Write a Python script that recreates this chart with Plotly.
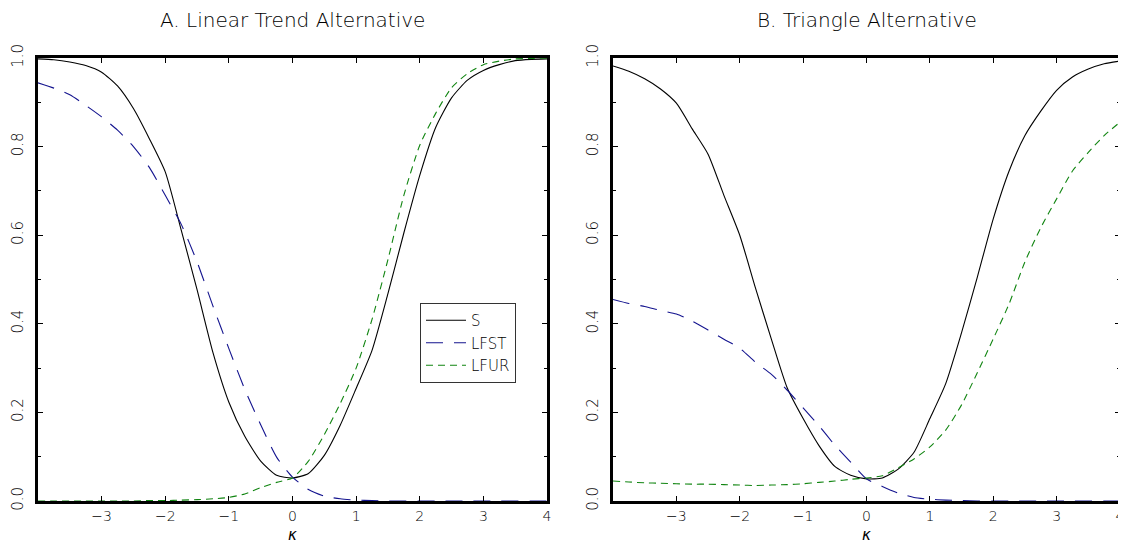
import plotly.graph_objects as go

kappa = [-4, -3.75, -3.5, -3.25, -3, -2.75, -2.5, -2.25, -2, -1.75, -1.5, -1.25, -1,
         -0.75, -0.5, -0.25, 0, 0.25, 0.5, 0.75, 1, 1.25, 1.5, 1.75, 2, 2.25, 2.5,
         2.75, 3, 3.25, 3.5, 3.75, 4]

# Panel A: Linear trend alternative
a_S = [0.998, 0.996, 0.991, 0.983, 0.968, 0.937, 0.886, 0.818, 0.743, 0.612, 0.477,
       0.335, 0.223, 0.146, 0.090, 0.058, 0.052, 0.062, 0.103, 0.171, 0.254, 0.340,
       0.468, 0.605, 0.735, 0.843, 0.910, 0.950, 0.972, 0.985, 0.994, 0.997, 0.998]
a_LFST = [0.944, 0.932, 0.917, 0.893, 0.867, 0.837, 0.800, 0.753, 0.690, 0.625, 0.540,
          0.440, 0.344, 0.252, 0.172, 0.099, 0.054, 0.026, 0.011, 0.005, 0.002, 0.001,
          0.0, 0.0, 0.0, 0.0, 0.0, 0.0, 0.0, 0.0, 0.0, 0.0, 0.0]
a_LFUR = [0.0, 0.0, 0.0, 0.0, 0.0, 0.0, 0.0, 0.001, 0.001, 0.002, 0.003, 0.005, 0.008,
          0.016, 0.030, 0.042, 0.052, 0.090, 0.150, 0.220, 0.300, 0.410, 0.545, 0.690,
          0.803, 0.875, 0.933, 0.965, 0.985, 0.993, 0.998, 0.999, 1.0]

# Panel B: Triangle alternative
b_S = [0.982, 0.970, 0.953, 0.930, 0.898, 0.840, 0.783, 0.690, 0.600, 0.480, 0.365,
       0.255, 0.186, 0.125, 0.078, 0.058, 0.050, 0.052, 0.072, 0.110, 0.186, 0.265,
       0.380, 0.506, 0.637, 0.745, 0.825, 0.880, 0.927, 0.957, 0.975, 0.987, 0.993]
b_LFST = [0.455, 0.446, 0.439, 0.430, 0.422, 0.406, 0.386, 0.365, 0.345, 0.313, 0.286,
          0.250, 0.210, 0.170, 0.126, 0.088, 0.050, 0.033, 0.018, 0.008, 0.004, 0.002,
          0.001, 0.0, 0.0, 0.0, 0.0, 0.0, 0.0, 0.0, 0.0, 0.0, 0.0]
b_LFUR = [0.045, 0.043, 0.041, 0.040, 0.039, 0.038, 0.038, 0.037, 0.036, 0.035, 0.036,
          0.037, 0.039, 0.042, 0.045, 0.049, 0.052, 0.057, 0.075, 0.095, 0.122, 0.160,
          0.217, 0.290, 0.366, 0.445, 0.540, 0.617, 0.682, 0.745, 0.787, 0.825, 0.855]

series_names = ["S", "LFST", "LFUR"]
panel_titles = ["A. Linear Trend Alternative", "B. Triangle Alternative"]
x_tickvals = [-3, -2, -1, 0, 1, 2, 3, 4]
x_ticktext = ["\u22123", "\u22122", "\u22121", "0", "1", "2", "3", "4"]
y_tickvals = [0, 0.2, 0.4, 0.6, 0.8, 1.0]
y_ticktext = ["0.0", "0.2", "0.4", "0.6", "0.8", "1.0"]
x_title = "\u03ba"

# The page body has an 8px margin; work in screen pixels and shift.
OFF = 8
W, H = 1126 - OFF, 544 - OFF
FONT = "DejaVu Sans"


def px_x(p):
    return (p - OFF) / W


def px_y(p):
    return 1 - (p - OFF) / H


styles = {
    "S": dict(color="#000000", dash="solid", width=1.1, shape="spline", smoothing=0.6),
    "LFST": dict(color="#14148f", dash="17px,11px", width=1.1, shape="spline", smoothing=0.6),
    "LFUR": dict(color="#118511", dash="7px,5px", width=1.1, shape="spline", smoothing=0.6),
}

fig = go.Figure()
panels = [(a_S, a_LFST, a_LFUR), (b_S, b_LFST, b_LFUR)]
for i, data in enumerate(panels):
    xa = "x" if i == 0 else "x2"
    ya = "y" if i == 0 else "y2"
    for name, vals in zip(series_names, data):
        fig.add_trace(go.Scatter(
            x=kappa, y=vals, mode="lines", name=name, line=styles[name],
            xaxis=xa, yaxis=ya, showlegend=(i == 0), cliponaxis=True,
            hoverinfo="skip"))

ydom = [px_y(501), px_y(58)]
xdoms = [[px_x(38), px_x(547)], [px_x(613), px_x(1120)]]

axis_common = dict(
    showline=True, linewidth=3, linecolor="black", mirror="ticks",
    ticks="inside", tickcolor="black", tickwidth=1, showgrid=False, zeroline=False,
    tickfont=dict(family=FONT, size=15, color="black", weight=300), automargin=False,
)

for i in range(2):
    sfx = "" if i == 0 else "2"
    fig.update_layout(**{
        "xaxis" + sfx: dict(
            axis_common, domain=xdoms[i], range=[-4, 4], tickmode="array",
            tickvals=x_tickvals, ticktext=x_ticktext, ticklen=5, ticklabelstandoff=0,
            tickfont=dict(family=FONT, size=14, color="black", weight=300),
            anchor="y" + sfx,
            title=dict(text=x_title, font=dict(family=FONT, size=15, style="italic", color="black"), standoff=7),
        ),
        "yaxis" + sfx: dict(
            axis_common, domain=ydom, range=[0, 1], tickmode="array",
            tickvals=y_tickvals, ticktext=y_ticktext, ticklen=5, tickangle=-90,
            ticklabelstandoff=6,
            anchor="x" + sfx,
            minor=dict(dtick=0.1, ticks="inside", ticklen=3, tickcolor="black", tickwidth=1),
        ),
    })

annotations = []
for i, t in enumerate(panel_titles):
    cx = (xdoms[i][0] + xdoms[i][1]) / 2
    annotations.append(dict(text=t, x=cx, y=px_y(20), xref="paper", yref="paper",
                            showarrow=False,
                            font=dict(family=FONT, size=20, color="black", weight=200),
                            xanchor="center", yanchor="middle"))

fig.update_layout(
    width=W, height=H, margin=dict(l=0, r=0, t=0, b=0),
    paper_bgcolor="white", plot_bgcolor="white",
    annotations=annotations,
    legend=dict(x=px_x(420), y=px_y(303), xanchor="left", yanchor="top",
                bgcolor="white", bordercolor="#333", borderwidth=1,
                font=dict(family=FONT, size=15, color="black", weight=300),
                tracegroupgap=0, itemwidth=40),
    showlegend=True,
)

fig.write_html("out.html")
